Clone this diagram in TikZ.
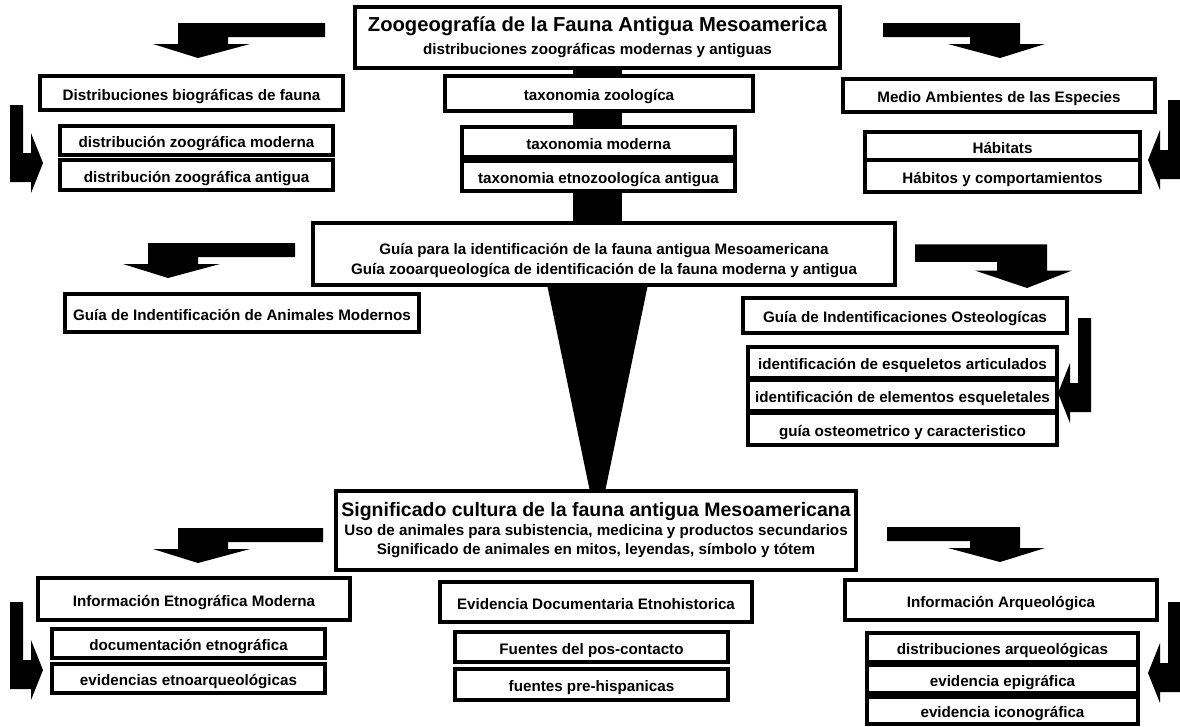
\documentclass[tikz,border=0pt]{standalone}
\usepackage{fontspec}
\setmainfont{Liberation Sans}
\usetikzlibrary{calc,backgrounds}

\tikzset{
  frame/.style={draw, line width=3.2pt, fill=white, inner sep=0pt, align=center,
    font=\fontsize{15.2}{19.5}\selectfont\bfseries},
  box/.style={frame, text height=14pt, text depth=0pt},
  size/.style 2 args={minimum width=#1pt, minimum height=#2pt},
  blockfill/.style={fill=black},
  pics/downbend/.style={code={
    \fill[blockfill] (-20,-35) -- (#1,-35) -- (#1,-21) -- (30,-21) -- (30,-14)
      -- (52,-14) -- (0,0) -- (-45,-14) -- (-20,-14) -- cycle;}},
  pics/sidebend/.style={code={
    \fill[blockfill] (-33,-#1) -- (-20,-#1) -- (-20,-10) -- (-12,-10) -- (-12,-30)
      -- (0,0) -- (-12,30) -- (-12,19) -- (-33,19) -- cycle;}},
}
\newcommand{\bigline}{\fontsize{19.5}{22}\selectfont}

\begin{document}
\begin{tikzpicture}[x=1pt, y=-1pt]
	\useasboundingbox (0,0) rectangle (1180,726);

	% Main boxes
	\node[frame, size={485}{61}] (top) at (597.5,37.5) {{\fontsize{20.2}{22}\selectfont Zoogeografía de la Fauna Antigua Mesoamerica}\\[3.5pt] distribuciones zoográficas modernas y antiguas};
	\node[frame, size={582}{62}] (guia) at (604,254) {\rule{0pt}{24pt}Guía para la identificación de la fauna antigua Mesoamericana\\ Guía zooarqueologíca de identificación de la fauna moderna y antigua};
	\node[frame, size={520}{79}, font=\fontsize{15.2}{19}\selectfont\bfseries] (sig) at (596,530.5) {{\bigline Significado cultura de la fauna antigua Mesoamericana}\\ Uso de animales para subistencia, medicina y productos secundarios\\ Significado de animales en mitos, leyendas, símbolo y tótem};

	% First tier
	\node[box, size={303}{34}] (dist) at (191.5,93) {Distribuciones biográficas de fauna};
	\node[box, size={273}{29}] (distmod) at (196.5,140.5) {distribución zoográfica moderna};
	\node[box, size={273}{30}] (distant) at (196.5,175) {distribución zoográfica antigua};
	\node[box, size={308}{35}] (taxzoo) at (599,93.5) {taxonomia zoologíca};
	\node[box, size={273}{30}] (taxmod) at (598.5,142) {taxonomia moderna};
	\node[box, size={273}{30}] (taxetno) at (598.5,176) {taxonomia etnozoologíca antigua};
	\node[box, size={312}{33}] (medio) at (999,95.5) {Medio Ambientes de las Especies};
	\node[box, size={275}{28}] (habitats) at (1002.5,146) {Hábitats};
	\node[box, size={275}{32}] (habitos) at (1002.5,176) {Hábitos y comportamientos};

	% Second tier
	\node[box, size={354}{38}] (guiamod) at (242,313) {Guía de Indentificación de Animales Modernos};
	\node[box, size={324}{35}] (guiaost) at (905,315.5) {Guía de Indentificaciones Osteologícas};
	\node[box, size={309}{31}] (esqart) at (902.5,362.5) {identificación de esqueletos articulados};
	\node[box, size={309}{31}] (esqele) at (902.5,395.5) {identificación de elementos esqueletales};
	\node[box, size={309}{32}] (osteo) at (902.5,429) {guía osteometrico y caracteristico};

	% Third tier
	\node[box, size={312}{42}] (etno) at (194,599) {Información Etnográfica Moderna};
	\node[box, size={273}{29}] (etnodoc) at (188.5,643.5) {documentación etnográfica};
	\node[box, size={273}{29}] (etnoarq) at (188.5,678.5) {evidencias etnoarqueológicas};
	\node[box, size={312}{40}] (docu) at (596,602) {Evidencia Documentaria Etnohistorica};
	\node[box, size={273}{30}] (poscont) at (591.5,647) {Fuentes del pos-contacto};
	\node[box, size={273}{31}] (prehisp) at (591.5,684.5) {fuentes pre-hispanicas};
	\node[box, size={312}{40}] (arqueo) at (1001,600) {Información Arqueológica};
	\node[box, size={271}{29}] (arqdist) at (1002.5,647.5) {distribuciones arqueológicas};
	\node[box, size={271}{28}] (epigr) at (1002.5,679) {evidencia epigráfica};
	\node[box, size={271}{27}] (icono) at (1002.5,710.5) {evidencia iconográfica};

	% Trunk and funnel
	\begin{scope}[on background layer]
		\fill[blockfill] ($(top.south)+(-24.5,0)$) rectangle ($(top.south |- guia.north)+(24.5,0)$);
		\fill[blockfill] ($(top.south |- guia.south)+(-50,0)$) -- ($(top.south |- guia.south)+(50,0)$)
			-- ($(top.south |- sig.north)+(8,0)$) -- ($(top.south |- sig.north)+(-8,0)$) -- cycle;
	\end{scope}

	% Bent arrows down
	\pic at (198,58) {downbend=127};
	\pic[xscale=-1] at (1000,58) {downbend=117};
	\pic at (168,278) {downbend=127};
	\pic[xscale=-1, yscale=1.25] at (1027,288) {downbend=112};
	\pic at (198,563) {downbend=125};
	\pic[xscale=-1] at (1000,562) {downbend=113};

	% Bent arrows sideways
	\pic at (43,163) {sidebend=58};
	\pic[xscale=-1] at (1148,160) {sidebend=60};
	\pic[xscale=-1] at (1058,393) {sidebend=75};
	\pic at (43,670) {sidebend=68};
	\pic[xscale=-1] at (1148,673) {sidebend=71};
\end{tikzpicture}
\end{document}
